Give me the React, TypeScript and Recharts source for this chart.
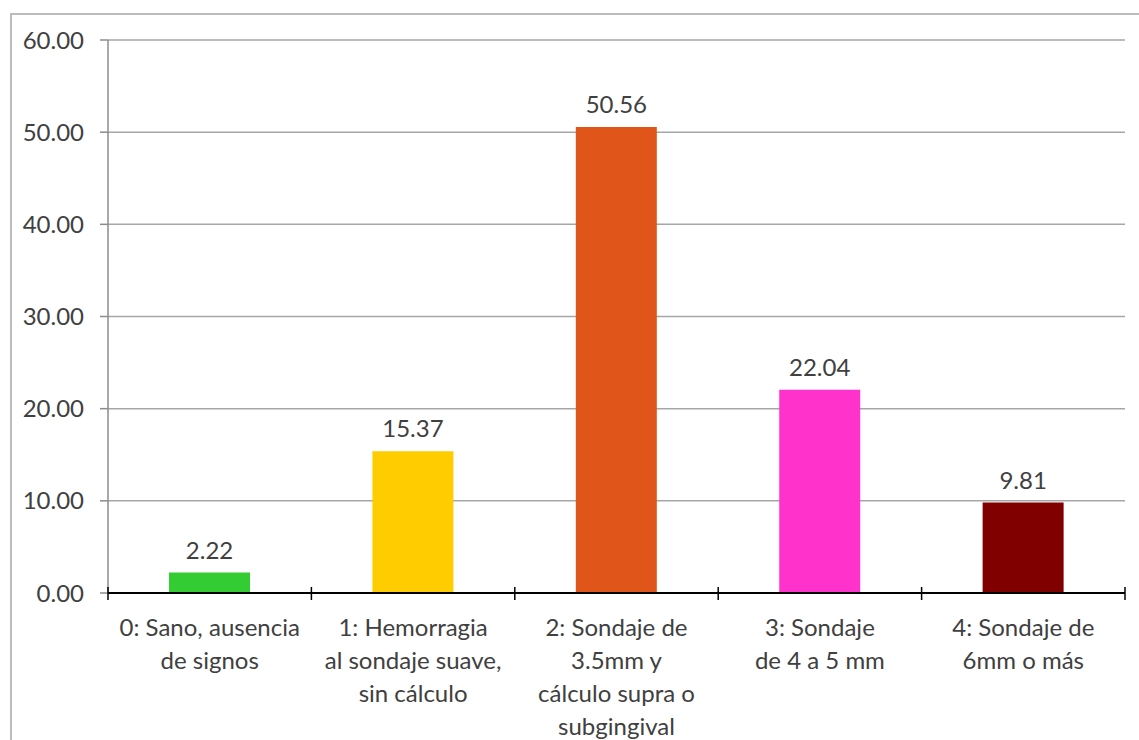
import { BarChart, Bar, XAxis, YAxis, CartesianGrid, Cell, LabelList } from 'recharts';

// periodontal index categories (lines split as they wrap under the axis)
const categories = [
  ['0: Sano, ausencia', 'de signos'],
  ['1: Hemorragia', 'al sondaje suave,', 'sin cálculo'],
  ['2: Sondaje de', '3.5mm y', 'cálculo supra o', 'subgingival'],
  ['3: Sondaje', 'de 4 a 5 mm'],
  ['4: Sondaje de', '6mm o más'],
];
const percentages = [2.22, 15.37, 50.56, 22.04, 9.81];
const barColors = ['#33cc33', '#ffcc00', '#e0561a', '#ff33cc', '#800000'];
const yTicks = [0, 10, 20, 30, 40, 50, 60];

const CHART_W = 1139;
const CHART_H = 740;
const Y_AXIS_W = 108;
const X_AXIS_H = 147;
const MARGIN = { top: 40, right: 14, left: 0, bottom: 0 };
const FONT = 'Lato, "Open Sans", sans-serif';

const chartData = categories.map((lines, i) => ({
  name: lines.join(' '),
  idx: i,
  value: percentages[i],
}));

const bandWidth = (CHART_W - Y_AXIS_W - MARGIN.right) / categories.length;

// category label plus the boundary tick marks crossing the axis
function CategoryTick(props: any) {
  const { x, y, index } = props;
  const lines = categories[index] || [];
  const left = x - bandWidth / 2;
  return (
    <g>
      <line x1={left} x2={left} y1={y - 6} y2={y + 7} stroke="#000" strokeWidth={1.5} />
      {index === categories.length - 1 && (
        <line x1={left + bandWidth} x2={left + bandWidth} y1={y - 6} y2={y + 7} stroke="#000" strokeWidth={1.5} />
      )}
      <text x={x} y={y + 43} textAnchor="middle" fill="#404040" fontSize={24} fontFamily={FONT}>
        {lines.map((l, i) => (
          <tspan key={i} x={x} dy={i === 0 ? 0 : 33}>
            {l}
          </tspan>
        ))}
      </text>
    </g>
  );
}

export default function App() {
  return (
    <div style={{ position: 'absolute', left: 0, top: 0, width: CHART_W, height: CHART_H, background: '#fff', overflow: 'hidden' }}>
      <div
        style={{
          position: 'absolute',
          left: 10,
          top: 13,
          width: CHART_W,
          height: CHART_H,
          border: '2px solid #bcbcbc',
        }}
      />
      <BarChart
        width={CHART_W}
        height={CHART_H}
        data={chartData}
        margin={MARGIN}
        barCategoryGap="30%"
        style={{ position: 'absolute', left: 0, top: 0 }}
      >
        <CartesianGrid vertical={false} stroke="#a6a6a6" strokeWidth={1.5} />
        <YAxis
          domain={[0, 60]}
          ticks={yTicks}
          interval={0}
          tickFormatter={(v: number) => v.toFixed(2)}
          axisLine={{ stroke: '#8c8c8c', strokeWidth: 1.5 }}
          tickLine={{ stroke: '#8c8c8c', strokeWidth: 1.5 }}
          tickSize={8}
          tickMargin={16}
          width={Y_AXIS_W}
          tick={{ fill: '#404040', fontSize: 24, fontFamily: FONT }}
        />
        <XAxis
          dataKey="idx"
          interval={0}
          axisLine={{ stroke: '#000', strokeWidth: 2 }}
          tickLine={false}
          tickSize={0}
          tickMargin={0}
          height={X_AXIS_H}
          tick={<CategoryTick />}
        />
        <Bar dataKey="value" isAnimationActive={false}>
          {chartData.map((d, i) => (
            <Cell key={d.name} fill={barColors[i]} />
          ))}
          <LabelList
            dataKey="value"
            position="top"
            offset={14}
            formatter={(v: any) => Number(v).toFixed(2)}
            fill="#404040"
            fontSize={24}
            fontFamily={FONT}
          />
        </Bar>
      </BarChart>
    </div>
  );
}
